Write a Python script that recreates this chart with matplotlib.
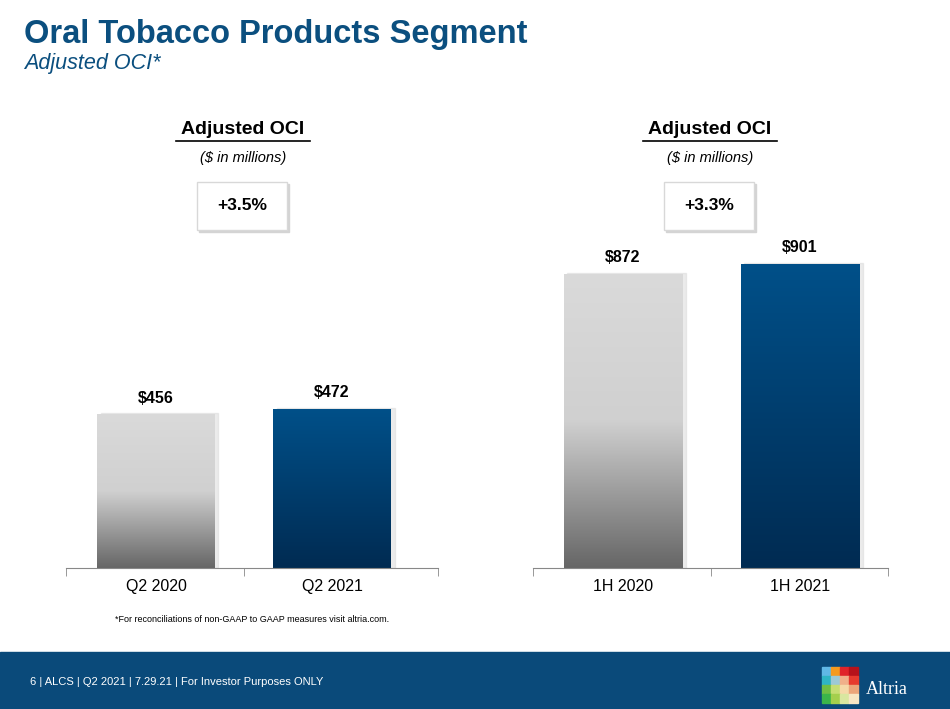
import matplotlib.pyplot as plt
import numpy as np
from matplotlib.patches import Rectangle
from matplotlib.colors import LinearSegmentedColormap

plt.rcParams['font.family'] = ['Liberation Sans', 'DejaVu Sans']

W, H = 950, 709
q_labels = ["Q2 2020", "Q2 2021"]
q_values = [456, 472]
h_labels = ["1H 2020", "1H 2021"]
h_values = [872, 901]
growth = ["+3.5%", "+3.3%"]

navy = "#0b4f7f"
gray_cm = LinearSegmentedColormap.from_list("g", [(0, "#666666"), (0.5, "#d0d0d0"), (1, "#dadada")])
blue_cm = LinearSegmentedColormap.from_list("b", [(0, "#002b52"), (1, "#005089")])

fig = plt.figure(figsize=(9.5, 7.09), dpi=100)

def fx(px): return px / W
def fy(py): return 1 - py / H

fig.text(fx(24), fy(35), "Oral Tobacco Products Segment", color=navy, fontsize=23.5, fontweight="bold", va="center")
fig.text(fx(24), fy(64), "Adjusted OCI*", color=navy, fontsize=15.5, style="italic", va="center")

ymax = 350 / 0.3375

def panel(x0, x1, xl, labels, values, center, g):
    ax = fig.add_axes([fx(x0), fy(568), fx(x1) - fx(x0), (568 - 218) / H])
    for s in ["left", "right", "top"]:
        ax.spines[s].set_visible(False)
    ax.spines["bottom"].set_color("#888888")
    ax.set_yticks([])
    ax.set_xticks([0, 1])
    ax.set_xticklabels(labels, fontsize=11.5)
    ax.tick_params(axis="x", length=0, pad=8)
    ax.set_xticks([xl[0], 0.5, xl[1]], minor=True)
    ax.tick_params(axis="x", which="minor", length=6, color="#888888")
    grad = np.linspace(0, 1, 256).reshape(-1, 1)
    for i, (v, cm) in enumerate(zip(values, [gray_cm, blue_cm])):
        bw = 0.67
        ax.add_patch(Rectangle((i - bw / 2 + 0.02, 0), bw, v + 3, color="#d8d8d8", alpha=0.5, zorder=1))
        r = Rectangle((i - bw / 2, 0), bw, v, facecolor="none", edgecolor="none")
        ax.add_patch(r)
        im = ax.imshow(grad, cmap=cm, origin="lower", aspect="auto",
                       extent=(i - bw / 2, i + bw / 2, 0, v), zorder=2)
        im.set_clip_path(r)
        ax.text(i, v + 25, f"${v}", ha="center", va="bottom", fontsize=11.5, fontweight="bold")
    ax.set_xlim(*xl)
    ax.set_ylim(0, ymax)
    fig.text(fx(center), fy(130), "Adjusted OCI", ha="center", va="center", fontsize=14, fontweight="bold")
    fig.lines.append(plt.Line2D([fx(center - 67), fx(center + 67)], [fy(141)] * 2, color="black", lw=1.2, transform=fig.transFigure))
    fig.text(fx(center), fy(158), "($ in millions)", ha="center", va="center", fontsize=10.5, style="italic")
    bx, by, bw_, bh = center - 46, 182, 90, 48
    fig.patches.append(Rectangle((fx(bx + 2), fy(by + bh + 2)), fx(bw_), bh / H, transform=fig.transFigure, color="#d4d4d4"))
    fig.patches.append(Rectangle((fx(bx), fy(by + bh)), fx(bw_), bh / H, transform=fig.transFigure,
                                 facecolor="white", edgecolor="#d8d8d8", lw=1))
    fig.text(fx(bx + bw_ / 2), fy(by + bh / 2), g, ha="center", va="center", fontsize=12.5, fontweight="bold")

panel(66, 438, (-0.511, 1.602), q_labels, q_values, 243, growth[0])
panel(533, 888, (-0.508, 1.497), h_labels, h_values, 710, growth[1])

fig.text(fx(252), fy(619), "*For reconciliations of non-GAAP to GAAP measures visit altria.com.", ha="center", va="center", fontsize=6.5)

fig.patches.append(Rectangle((0, 0), 1, (H - 652) / H, transform=fig.transFigure, color="#0a4a7a"))
fig.text(fx(30), fy(682), "6 | ALCS | Q2 2021 | 7.29.21 | For Investor Purposes ONLY", color="white", fontsize=8, va="center")
logo_cols = [["#60b8e6", "#f49a1e", "#e0242a", "#b5121b"],
             ["#2fb5c5", "#9cc9d6", "#f0b08a", "#e63a2e"],
             ["#6fbe44", "#c6dd73", "#f5d9a8", "#eba57a"],
             ["#3bb54a", "#a4cf4d", "#d9e7a0", "#f7e6c4"]]
s = 9
for r in range(4):
    for c in range(4):
        fig.patches.append(Rectangle((fx(822 + c * s), fy(667 + (r + 1) * s)), s / W, s / H,
                                     transform=fig.transFigure, color=logo_cols[r][c]))
fig.text(fx(866), fy(689), "Altria", color="white", fontsize=13, family="Liberation Serif", va="center")

fig.savefig("out.png", dpi=100)
